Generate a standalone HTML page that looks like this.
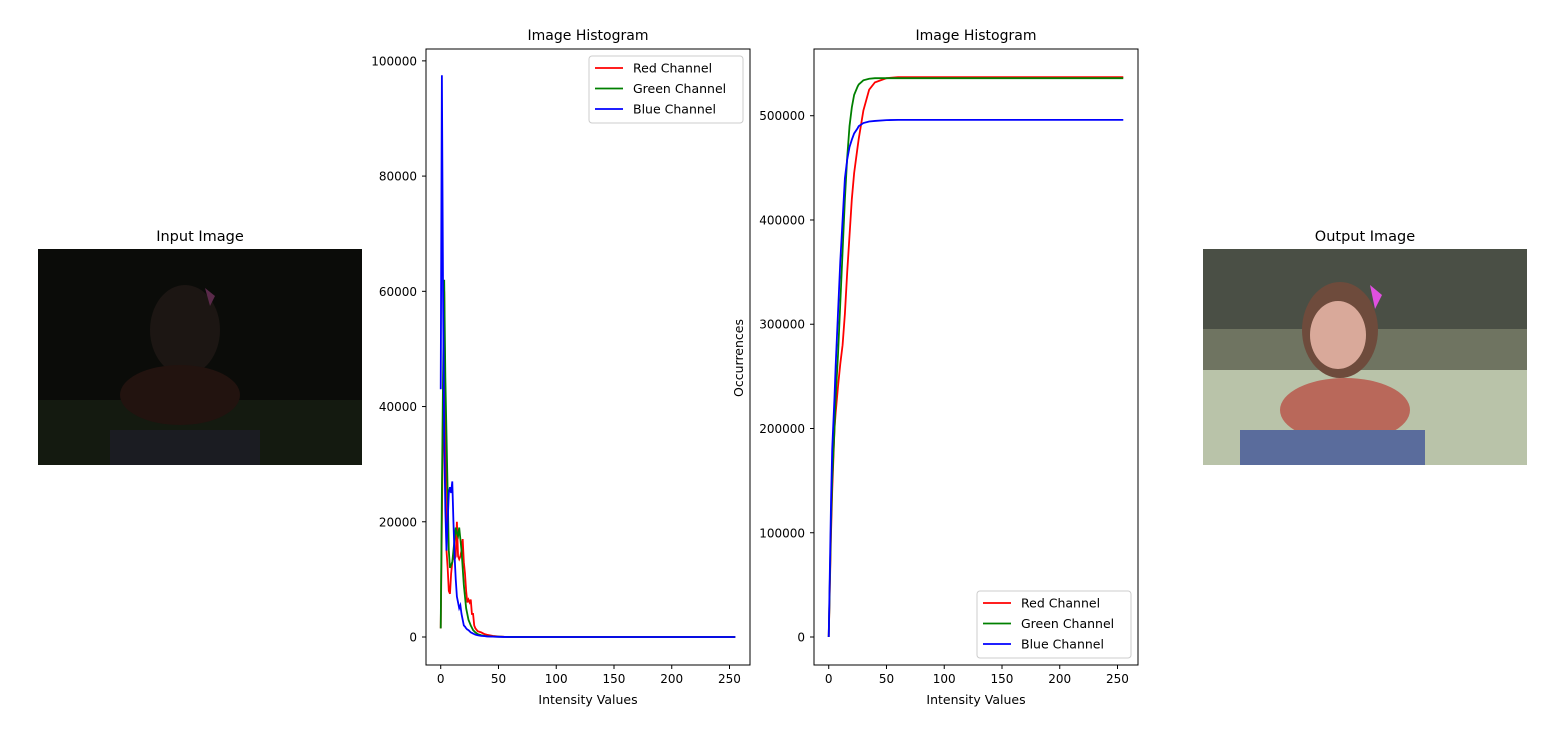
<!DOCTYPE html>
<html><head><meta charset="utf-8"><style>
body{margin:0;background:#fff;font-family:"Liberation Sans","DejaVu Sans",sans-serif}
svg text{font-family:"DejaVu Sans","Liberation Sans",sans-serif}
</style></head><body>
<svg id="fig" width="1541" height="724" viewBox="0 0 1541 724">
<rect width="1541" height="724" fill="#fff"/>
<g>
<text x="200" y="241" font-size="14.5" text-anchor="middle">Input Image</text>
<rect x="38" y="249" width="324" height="216" fill="#0b0c09"/>
<rect x="38" y="400" width="324" height="65" fill="#141a10"/>
<ellipse cx="185" cy="330" rx="35" ry="45" fill="#1c1613"/>
<ellipse cx="180" cy="395" rx="60" ry="30" fill="#22130f"/>
<rect x="110" y="430" width="150" height="35" fill="#1b1c22"/>
<path d="M205 288 l10 8 -5 10 z" fill="#5a2a4a"/>
</g>
<g>
<text x="1365" y="241" font-size="14.5" text-anchor="middle">Output Image</text>
<rect x="1203" y="249" width="324" height="216" fill="#6f7461"/>
<rect x="1203" y="249" width="324" height="80" fill="#4a4f45"/>
<rect x="1203" y="370" width="324" height="95" fill="#b9c3a9"/>
<ellipse cx="1340" cy="330" rx="38" ry="48" fill="#6e4b3c"/>
<ellipse cx="1338" cy="335" rx="28" ry="34" fill="#d9a99a"/>
<ellipse cx="1345" cy="410" rx="65" ry="32" fill="#b9685a"/>
<rect x="1240" y="430" width="185" height="35" fill="#5a6c9c"/>
<path d="M1370 285 l12 10 -7 14 z" fill="#e050e0"/>
</g>
<g id="ax1"></g>
<g id="ax2"></g>
</svg>
<script>
const histBins=[0,1,2,3,4,5,6,7,8,9,10,11,12,13,14,15,16,17,18,19,20,21,22,23,24,25,26,27,28,29,30,32,35,38,40,45,50,55,60,80,120,180,255];
const histRed=[1500,20000,40000,60000,35000,15000,12000,8000,7500,11000,13000,14000,13500,14000,20000,14000,13500,14000,15000,17000,13000,11000,8000,6000,6500,6000,6500,4000,4000,2000,1500,1000,800,500,400,200,80,30,10,0,0,0,0];
const histGreen=[1500,25000,45000,62000,45000,35000,25000,15000,12000,12500,13000,15000,17000,19000,18000,17500,19000,17000,15000,12000,9000,7000,5000,4000,3000,2500,2000,1600,1200,1000,800,500,300,200,150,80,50,20,10,0,0,0,0];
const histBlue=[43000,97500,60000,35000,22000,15000,20000,25000,26000,25000,27000,20000,14000,10000,7000,6000,5000,5500,4000,3000,2000,1800,1500,1300,1200,1000,800,700,600,500,400,300,200,150,100,60,30,10,5,0,0,0,0];
const histYTicks=[0,20000,40000,60000,80000,100000];
const cumBins=[0,2,3,5,6,8,10,12,14,16,18,20,22,25,26,30,35,40,50,60,255];
const cumRed=[0,100000,140000,200000,215000,240000,262000,280000,310000,350000,385000,420000,445000,470000,478000,505000,525000,532000,536000,537000,537000];
const cumGreen=[0,110000,150000,200000,230000,270000,320000,370000,420000,460000,490000,508000,520000,528000,530000,534000,535500,536000,536000,536000,536000];
const cumBlue=[0,130000,180000,230000,260000,310000,360000,400000,440000,458000,470000,477000,483000,488000,490000,493000,494500,495000,495800,496000,496000];
const cumYTicks=[0,100000,200000,300000,400000,500000];
const xTicks=[0,50,100,150,200,250];
const NS="http://www.w3.org/2000/svg";
function mk(p,t,a){const e=document.createElementNS(NS,t);for(const k in a)e.setAttribute(k,a[k]);p.appendChild(e);return e;}
function drawAx(g,L,T,W,H,xmin,xmax,ymin,ymax,yTicks,series,legendY,ylabel){
  const xs=v=>L+(v-xmin)/(xmax-xmin)*W, ys=v=>T+H-(v-ymin)/(ymax-ymin)*H;
  const title=mk(g,'text',{x:L+W/2,y:T-9,'font-size':14,'text-anchor':'middle'});title.textContent='Image Histogram';
  
  
  series.forEach(s=>{
    const pl=mk(g,'polyline',{points:s.x.map((b,i)=>xs(b)+','+ys(s.y[i])).join(' '),fill:'none',stroke:s.c,'stroke-width':1.8});
    
    
  });
  const fr=mk(g,'rect',{x:L,y:T,width:W,height:H,fill:'none',stroke:'#000','stroke-width':1});
  
  
  xTicks.forEach(t=>{mk(g,'line',{x1:xs(t),x2:xs(t),y1:T+H,y2:T+H+4,stroke:'#000'});
    const tx=mk(g,'text',{x:xs(t),y:T+H+18,'font-size':12,'text-anchor':'middle'});tx.textContent=t;
    
    });
  yTicks.forEach(t=>{mk(g,'line',{x1:L-4,x2:L,y1:ys(t),y2:ys(t),stroke:'#000'});
    const tx=mk(g,'text',{x:L-9,y:ys(t)+4.5,'font-size':12,'text-anchor':'end'});tx.textContent=t;
    
    });
  const xl=mk(g,'text',{x:L+W/2,y:T+H+39,'font-size':12.5,'text-anchor':'middle'});xl.textContent='Intensity Values';
  
  
  if(ylabel){const yl=mk(g,'text',{x:0,y:0,'font-size':12.5,'text-anchor':'middle',transform:`translate(${L-71},${T+H/2+1}) rotate(-90)`});yl.textContent=ylabel;
    
    }
  const lx=L+W-161, lg=mk(g,'g',{});
  
  
  mk(lg,'rect',{x:lx,y:legendY,width:154,height:67,rx:3,fill:'#fff',stroke:'#ccc'});
  series.forEach((s,i)=>{const y=legendY+12+i*20.5;
    mk(lg,'line',{x1:lx+6,x2:lx+34,y1:y,y2:y,stroke:s.c,'stroke-width':1.8});
    const t=mk(lg,'text',{x:lx+44,y:y+4.5,'font-size':12.5});t.textContent=s.n;
    
    });
}
drawAx(document.getElementById('ax1'),426,49,324,616,-12.75,267.75,-4860,102060,histYTicks,
 [{x:histBins,y:histRed,c:'#ff0000',n:'Red Channel'},{x:histBins,y:histGreen,c:'#008000',n:'Green Channel'},{x:histBins,y:histBlue,c:'#0000ff',n:'Blue Channel'}],56,null);
drawAx(document.getElementById('ax2'),814,49,324,616,-12.75,267.75,-26850,564000,cumYTicks,
 [{x:cumBins,y:cumRed,c:'#ff0000',n:'Red Channel'},{x:cumBins,y:cumGreen,c:'#008000',n:'Green Channel'},{x:cumBins,y:cumBlue,c:'#0000ff',n:'Blue Channel'}],591,'Occurrences');
</script>
</body></html>
